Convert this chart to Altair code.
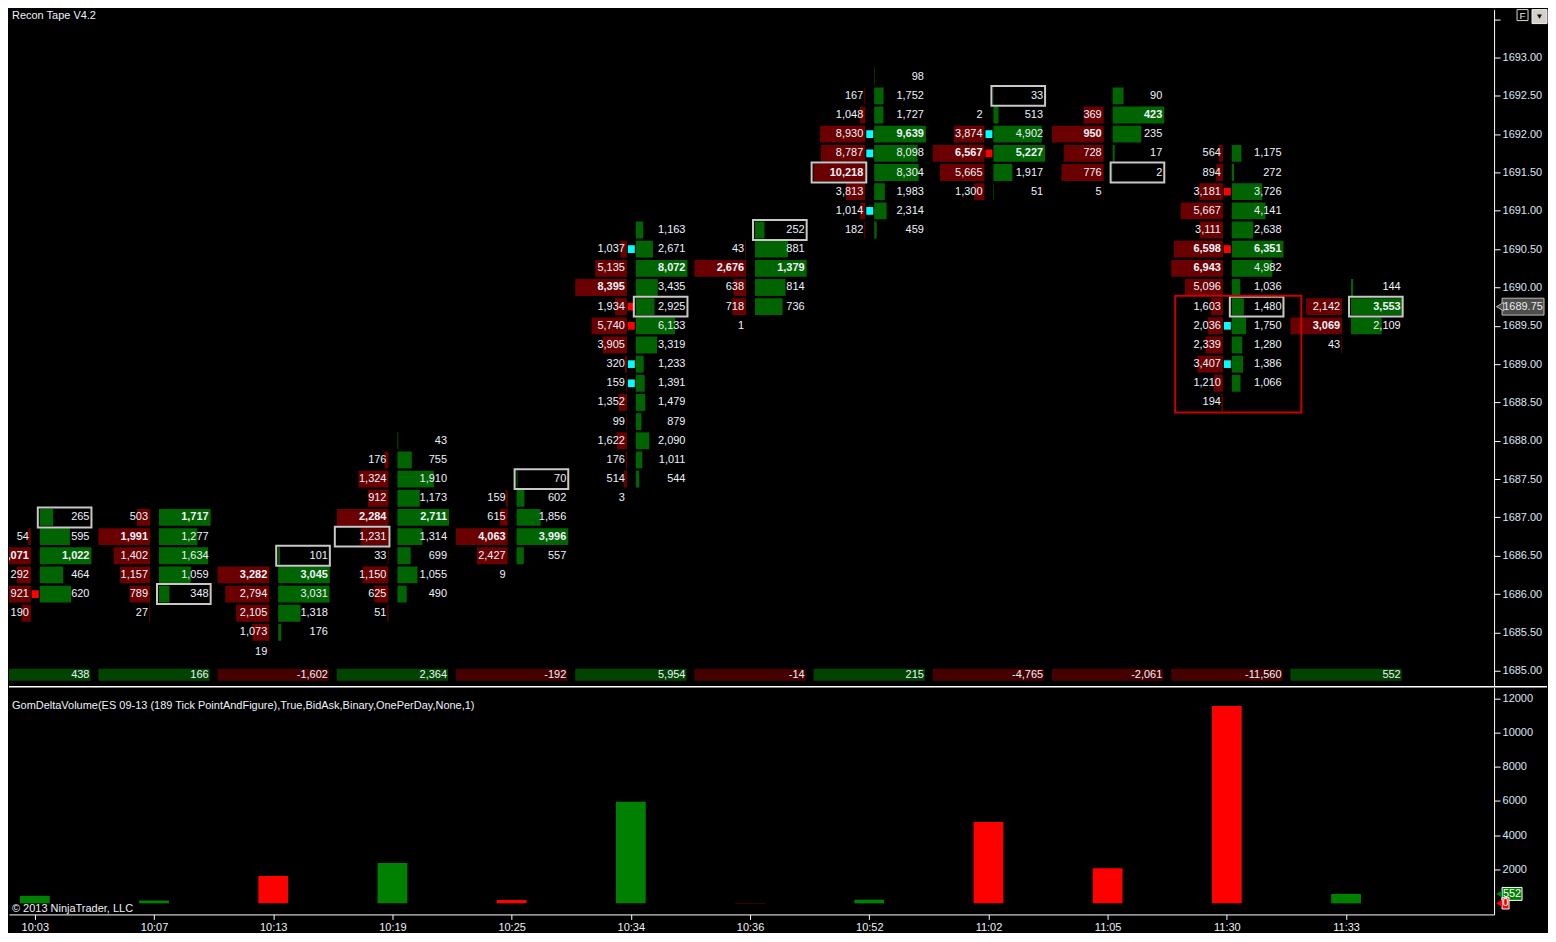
import altair as alt
import pandas as pd

# ---------------- data ----------------
times = ["10:03", "10:07", "10:13", "10:19", "10:25", "10:34", "10:36", "10:52",
         "11:02", "11:05", "11:30", "11:33"]
top_price = [1687.00, 1687.00, 1686.50, 1688.00, 1687.50, 1690.75, 1690.75, 1692.75,
             1692.50, 1692.50, 1691.75, 1690.00]
bids = [
    [None, 54, 1071, 292, 921, 190],
    [503, 1991, 1402, 1157, 789, 27],
    [None, 3282, 2794, 2105, 1073, 19],
    [None, 176, 1324, 912, 2284, 1231, 33, 1150, 625, 51],
    [None, 159, 615, 4063, 2427, 9],
    [None, 1037, 5135, 8395, 1934, 5740, 3905, 320, 159, 1352, 99, 1622, 176, 514, 3],
    [None, 43, 2676, 638, 718, 1],
    [None, 167, 1048, 8930, 8787, 10218, 3813, 1014, 182],
    [None, 2, 3874, 6567, 5665, 1300],
    [None, 369, 950, 728, 776, 5],
    [564, 894, 3181, 5667, 3111, 6598, 6943, 5096, 1603, 2036, 2339, 3407, 1210, 194],
    [None, 2142, 3069, 43],
]
asks = [
    [265, 595, 1022, 464, 620, None],
    [1717, 1277, 1634, 1059, 348, None],
    [101, 3045, 3031, 1318, 176, None],
    [43, 755, 1910, 1173, 2711, 1314, 699, 1055, 490, None],
    [70, 602, 1856, 3996, 557, None],
    [1163, 2671, 8072, 3435, 2925, 6133, 3319, 1233, 1391, 1479, 879, 2090, 1011, 544, None],
    [252, 881, 1379, 814, 736, None],
    [98, 1752, 1727, 9639, 8098, 8304, 1983, 2314, 459],
    [33, 513, 4902, 5227, 1917, 51],
    [90, 423, 235, 17, 2, None],
    [1175, 272, 3726, 4141, 2638, 6351, 4982, 1036, 1480, 1750, 1280, 1386, 1066, None],
    [144, 3553, 2109, None],
]
deltas = [438, 166, -1602, 2364, -192, 5954, -14, 215, -4765, -2061, -11560, 552]

box_col = [0, 1, 2, 3, 4, 5, 6, 7, 8, 9, 10, 11]
box_price = [1687.00, 1686.00, 1686.50, 1686.75, 1687.50, 1689.75, 1690.75, 1691.50,
             1692.50, 1691.50, 1689.75, 1689.75]
box_side = ["ask", "ask", "ask", "bid", "ask", "ask", "ask", "bid", "ask", "ask", "ask", "ask"]

marker_col = [0, 5, 5, 5, 5, 5, 7, 7, 7, 8, 8, 10, 10, 10, 10]
marker_price = [1686.00, 1690.50, 1689.75, 1689.50, 1689.00, 1688.75, 1692.00, 1691.75,
                1691.00, 1692.00, 1691.75, 1691.25, 1690.50, 1689.50, 1689.00]
marker_kind = ["red", "cyan", "red", "red", "cyan", "cyan", "cyan", "cyan", "cyan",
               "cyan", "red", "red", "red", "cyan", "cyan"]

extra_bold = [(10, 1690.50, "bid")]
zone_col, zone_hi, zone_lo = 10, 1689.75, 1688.50
last_price = 1689.75
last_delta = 552

price_ticks = [1685.0 + 0.5 * i for i in range(18)]
delta_ticks = [2000, 4000, 6000, 8000, 10000, 12000]

# ---------------- layout helpers ----------------
PX = 120.0          # one column = 120 px in the reference
W = 1487
H1 = 678
H2 = 227
TXT = "#eef2fb"
FONT = "Liberation Sans"
FS = 11

XS = alt.Scale(domain=[-26 / PX, (1495 - 26) / PX], nice=False, zero=False)
YS1 = alt.Scale(domain=[1684.7915, 1693.6254], nice=False, zero=False)
YS2 = alt.Scale(domain=[-649, 12626], nice=False, zero=False)

yaxis1 = alt.Axis(orient="right", values=price_ticks, title=None, tickSize=6,
                  labelPadding=2, domainColor="white", tickColor="white",
                  labelColor="#dde6f5", labelFont=FONT, labelFontSize=11, grid=False,
                  labelExpr="datum.value > 1693.25 ? '' : format(datum.value, '.2f')")
yaxis2 = alt.Axis(orient="right", values=delta_ticks, title=None, tickSize=6,
                  labelPadding=2, domainColor="white", tickColor="white", format="d",
                  labelColor="#dde6f5", labelFont=FONT, labelFontSize=11, grid=False)
label_expr = "[" + ",".join("'%s'" % t for t in times) + "][datum.value]"
xaxis2 = alt.Axis(orient="bottom", values=list(range(len(times))), title=None, tickSize=5,
                  labelPadding=2, domainColor="white", tickColor="white",
                  labelColor="#eef2fb", labelFont=FONT, labelFontSize=11, grid=False,
                  labelExpr=label_expr, labelFlush=False)


def X(f):
    return alt.X(f, type="quantitative", scale=XS, axis=None)


def X2b(f):
    return alt.X(f, type="quantitative", scale=XS, axis=xaxis2)


def Y1(f):
    return alt.Y(f, type="quantitative", scale=YS1, axis=yaxis1)


def Y2(f):
    return alt.Y(f, type="quantitative", scale=YS2, axis=yaxis2)


# ---------------- cell table ----------------
rows = []
for c, (tp, bl, al) in enumerate(zip(top_price, bids, asks)):
    bmax = max(v for v in bl if v is not None)
    amax = max(v for v in al if v is not None)
    for k, (b, a) in enumerate(zip(bl, al)):
        p = round(tp - 0.25 * k, 2)
        for side, v, vmax in (("bid", b, bmax), ("ask", a, amax)):
            if v is None:
                continue
            frac = v / vmax
            if side == "bid":
                x1, x2, tx = c - (4 + 52 * frac) / PX, c - 4 / PX, c - 6 / PX
            else:
                x1, x2, tx = c + 5 / PX, c + (5 + 52 * frac) / PX, c + 55 / PX
            bold = (v == vmax) or ((c, p, side) in extra_bold)
            rows.append(dict(col=c, price=p, side=side, label=f"{v:,}", x1=x1, x2=x2,
                             tx=tx, y1=p - 0.11, y2=p + 0.11, bold=bold))
cells = pd.DataFrame(rows)

boxes = pd.DataFrame(dict(col=box_col, price=box_price, side=box_side))
boxes["x1"] = [c + (3 if s == "ask" else -58) / PX for c, s in zip(box_col, box_side)]
boxes["x2"] = [c + (57 if s == "ask" else -3) / PX for c, s in zip(box_col, box_side)]
boxes["y1"] = boxes["price"] - 0.13
boxes["y2"] = boxes["price"] + 0.13

marks = pd.DataFrame(dict(col=marker_col, price=marker_price, kind=marker_kind))
marks["x1"] = marks["col"] - 3 / PX
marks["x2"] = marks["col"] + 4 / PX
marks["y1"] = marks["price"] - 0.05
marks["y2"] = marks["price"] + 0.05

zone = pd.DataFrame([dict(x1=zone_col - 52 / PX, x2=zone_col + 75 / PX,
                          y1=zone_lo - 0.13, y2=zone_hi + 0.143)])

dl = pd.DataFrame(dict(col=list(range(len(deltas))), delta=deltas))
dl["label"] = [f"{d:,}" for d in deltas]
dl["absd"] = [abs(d) for d in deltas]
dl["x1"] = dl["col"] - 56 / PX
dl["x2"] = dl["col"] + 56 / PX
dl["tx"] = dl["col"] + 55 / PX
dl["b1"] = dl["col"] - 15 / PX
dl["b2"] = dl["col"] + 15 / PX
dl["zero"] = 0
dl_pos = dl[dl.delta >= 0]
dl_neg = dl[dl.delta < 0]

# ---------------- top panel ----------------
bid_bars = alt.Chart(cells[cells.side == "bid"]).mark_rect(color="#6b0000", clip=True).encode(
    x=X("x1"), x2="x2", y=Y1("y1"), y2="y2")
ask_bars = alt.Chart(cells[cells.side == "ask"]).mark_rect(color="#006400", clip=True).encode(
    x=X("x1"), x2="x2", y=Y1("y1"), y2="y2")
mk_red = alt.Chart(marks[marks.kind == "red"]).mark_rect(color="#ff0000", clip=True).encode(
    x=X("x1"), x2="x2", y=Y1("y1"), y2="y2")
mk_cyan = alt.Chart(marks[marks.kind == "cyan"]).mark_rect(color="#00ffff", clip=True).encode(
    x=X("x1"), x2="x2", y=Y1("y1"), y2="y2")
box_layer = alt.Chart(boxes).mark_rect(filled=False, stroke="#c8c8c8", strokeWidth=2, clip=True).encode(
    x=X("x1"), x2="x2", y=Y1("y1"), y2="y2")
zone_layer = alt.Chart(zone).mark_rect(filled=False, stroke="#cc0000", strokeWidth=2).encode(
    x=X("x1"), x2="x2", y=Y1("y1"), y2="y2")
txt_norm = alt.Chart(cells[~cells.bold]).mark_text(
    align="right", baseline="middle", font=FONT, fontSize=FS, color=TXT, clip=True).encode(
    x=X("tx"), y=Y1("price"), text="label:N")
txt_bold = alt.Chart(cells[cells.bold]).mark_text(
    align="right", baseline="middle", font=FONT, fontSize=FS, fontWeight="bold", color=TXT,
    clip=True).encode(x=X("tx"), y=Y1("price"), text="label:N")
delta_pos = alt.Chart(dl_pos).mark_rect(color="#004400", clip=True).encode(
    x=X("x1"), x2="x2", y=alt.value(660), y2=alt.value(672))
delta_neg = alt.Chart(dl_neg).mark_rect(color="#460000", clip=True).encode(
    x=X("x1"), x2="x2", y=alt.value(660), y2=alt.value(672))
delta_txt = alt.Chart(dl).mark_text(align="right", baseline="middle", font=FONT, fontSize=FS,
                                    color=TXT).encode(x=X("tx"), y=alt.value(666), text="label:N")

title_txt = alt.Chart(pd.DataFrame([dict(t="Recon Tape V4.2")])).mark_text(
    align="left", baseline="middle", font=FONT, fontSize=11, color=TXT).encode(
    x=alt.value(3), y=alt.value(6), text="t:N")

lp = pd.DataFrame([dict(p=last_price, lo=last_price - 0.11, hi=last_price + 0.11,
                        t=f"{last_price:.2f}")])
lp_rect = alt.Chart(lp).mark_rect(fill="#4e4e4e", stroke="#bdbdbd", strokeWidth=1).encode(
    x=alt.value(1495), x2=alt.value(1537), y=Y1("lo"), y2="hi")
lp_tri = alt.Chart(lp).mark_point(shape="triangle-left", filled=True, fill="#4e4e4e",
                                  stroke="#bdbdbd", strokeWidth=1, size=70, opacity=1).encode(
    x=alt.value(1493), y=Y1("p"))
lp_txt = alt.Chart(lp).mark_text(align="center", baseline="middle", font=FONT, fontSize=11,
                                 color="#e8e8e8").encode(x=alt.value(1516), y=Y1("p"), text="t:N")

fbox = pd.DataFrame([dict(t="F")])
f_rect = alt.Chart(fbox).mark_rect(fill="black", stroke="#d8d8d8", strokeWidth=1).encode(
    x=alt.value(1510), x2=alt.value(1521), y=alt.value(0), y2=alt.value(11))
f_txt = alt.Chart(fbox).mark_text(align="center", baseline="middle", font=FONT, fontSize=10,
                                  color="#e8e8e8").encode(x=alt.value(1515.5), y=alt.value(6), text="t:N")
dd_rect = alt.Chart(fbox).mark_rect(fill="#d4d0c8", stroke="#f0f0f0", strokeWidth=1).encode(
    x=alt.value(1525), x2=alt.value(1540), y=alt.value(0), y2=alt.value(14))
dd_tri = alt.Chart(fbox).mark_point(shape="triangle-down", filled=True, fill="black", size=25,
                                    opacity=1).encode(x=alt.value(1532.5), y=alt.value(7))

sep = alt.Chart(fbox).mark_rule(color="white", strokeWidth=1.5).encode(
    x=alt.value(0), x2=alt.value(1540), y=alt.value(H1))

top = alt.layer(bid_bars, ask_bars, mk_red, mk_cyan, box_layer, zone_layer, txt_norm, txt_bold,
                delta_pos, delta_neg, delta_txt, title_txt, lp_rect, lp_tri, lp_txt,
                f_rect, f_txt, dd_rect, dd_tri, sep).properties(width=W, height=H1)

# ---------------- bottom panel ----------------
dv_pos = alt.Chart(dl_pos).mark_rect(color="#008000").encode(
    x=X2b("b1"), x2="b2", y=Y2("zero"), y2="absd")
dv_neg = alt.Chart(dl_neg).mark_rect(color="#ff0000").encode(
    x=X2b("b1"), x2="b2", y=Y2("zero"), y2="absd")
ind_txt = alt.Chart(pd.DataFrame([dict(
    t="GomDeltaVolume(ES 09-13 (189 Tick PointAndFigure),True,BidAsk,Binary,OnePerDay,None,1)")])
).mark_text(align="left", baseline="middle", font=FONT, fontSize=11, color=TXT).encode(
    x=alt.value(3), y=alt.value(18), text="t:N")
copy_txt = alt.Chart(pd.DataFrame([dict(t="© 2013 NinjaTrader, LLC")])).mark_text(
    align="left", baseline="middle", font=FONT, fontSize=11, color=TXT).encode(
    x=alt.value(3), y=alt.value(222), text="t:N")

tags = pd.DataFrame([
    dict(v=last_delta, lo=last_delta - 380, hi=last_delta + 380, t=f"{last_delta}", k="pos",
         xa=1495, xb=1515, xc=1505, xt=1492),
    dict(v=0, lo=-330, hi=330, t="0", k="neg", xa=1495, xb=1502, xc=1498.5, xt=1492),
])
tag_layers = []
for _, r in tags.iterrows():
    d = pd.DataFrame([r])
    fill = "#008000" if r["k"] == "pos" else "#ff0000"
    tag_layers.append(alt.Chart(d).mark_rect(fill=fill, stroke="white", strokeWidth=1).encode(
        x=alt.value(float(r["xa"])), x2=alt.value(float(r["xb"])), y=Y2("lo"), y2="hi"))
    tag_layers.append(alt.Chart(d).mark_point(shape="triangle-left", filled=True, fill=fill,
                                              size=45, opacity=1).encode(
        x=alt.value(float(r["xt"])), y=Y2("v")))
    tag_layers.append(alt.Chart(d).mark_text(align="center", baseline="middle", font=FONT,
                                             fontSize=11, color="white").encode(
        x=alt.value(float(r["xc"])), y=Y2("v"), text="t:N"))

bottom = alt.layer(dv_pos, dv_neg, ind_txt, copy_txt, *tag_layers).properties(width=W, height=H2)

chart = alt.vconcat(top, bottom, spacing=0).properties(
    padding={"left": 0, "top": 0, "right": 0, "bottom": 0}
).configure(background="black").configure_view(strokeWidth=0)

chart.save("out.html", embed_options={"renderer": "svg", "actions": False})
